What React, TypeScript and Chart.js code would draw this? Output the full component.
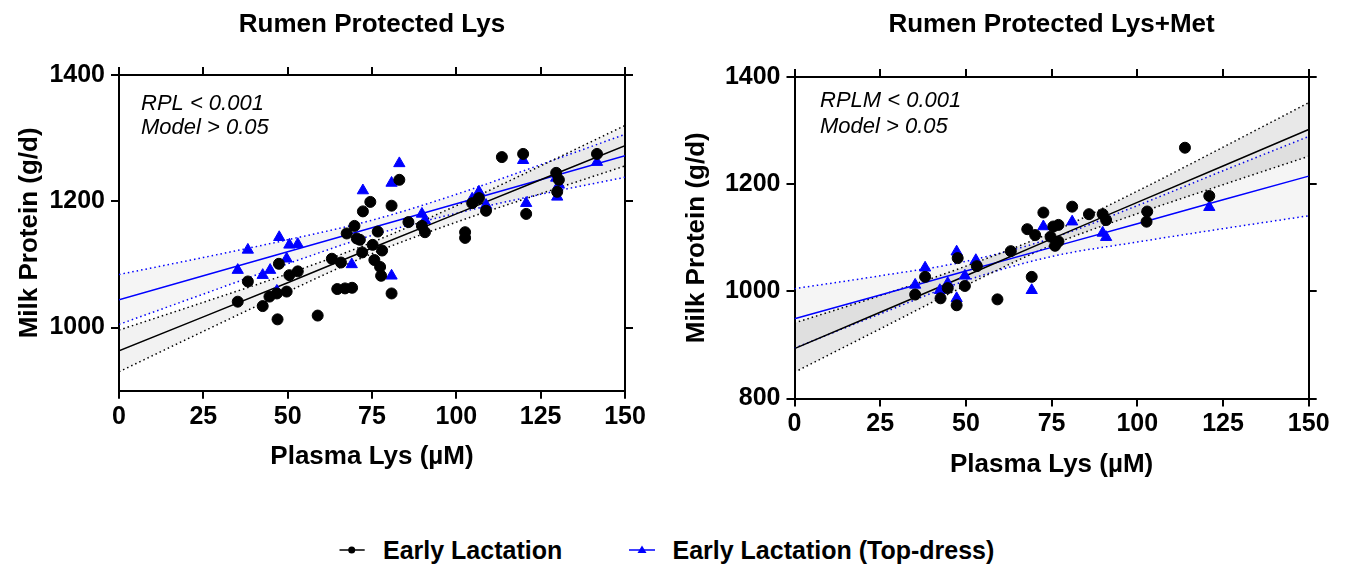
import React, { useEffect, useRef } from "react";
import { Chart, registerables } from "chart.js";

Chart.register(...registerables);

const FONT = "'Liberation Sans', Arial, Helvetica, sans-serif";

// ---------- shared axis ticks ----------
const xTicks = [0, 25, 50, 75, 100, 125, 150];
const lysYTicks = [1000, 1200, 1400];
const lysMetYTicks = [800, 1000, 1200, 1400];
const fitX = [0, 25, 50, 75, 100, 125, 150];

// ---------- Panel 1: Rumen Protected Lys ----------
const lysEarlyX = [35.2, 38.2, 42.6, 44.6, 46.8, 47.0, 47.4, 49.7, 50.5, 53.0, 58.9, 63.1, 65.8, 64.7, 67.0, 69.1, 67.5, 69.8, 70.5, 71.4, 72.1, 72.3, 74.5, 75.2, 76.7, 78.0, 75.7, 77.4, 77.7, 80.8, 80.8, 83.1, 85.8, 89.8, 90.7, 102.6, 102.6, 104.7, 106.7, 108.8, 113.5, 119.8, 120.7, 129.6, 130.4, 129.9, 141.7];
const lysEarlyY = [1041, 1073, 1034, 1049, 1054, 1013, 1101, 1057, 1083, 1089, 1019, 1109, 1103, 1061, 1062, 1063, 1149, 1161, 1141, 1139, 1119, 1184, 1199, 1131, 1152, 1122, 1107, 1096, 1082, 1054, 1193, 1234, 1167, 1161, 1151, 1151, 1142, 1197, 1205, 1185, 1270, 1275, 1180, 1245, 1234, 1215, 1275];
const lysTopX = [35.2, 38.2, 42.6, 44.8, 47.5, 46.8, 49.7, 50.5, 53.0, 69.0, 72.3, 80.8, 83.1, 80.8, 89.8, 90.7, 104.7, 106.7, 108.8, 119.8, 120.7, 129.6, 130.4, 129.9, 141.7];
const lysTopY = [1091, 1123, 1083, 1091, 1143, 1058, 1109, 1131, 1132, 1100, 1217, 1229, 1260, 1082, 1180, 1170, 1204, 1215, 1194, 1265, 1197, 1237, 1226, 1207, 1262];
const lysEarlyFit = [963, 1017, 1071, 1126, 1180, 1234, 1288];
const lysEarlyUpper = [996, 1040, 1085, 1135, 1193, 1256, 1320];
const lysEarlyLower = [930, 994, 1057, 1117, 1167, 1212, 1256];
const lysTopFit = [1044, 1082, 1120, 1158, 1196, 1234, 1272];
const lysTopUpper = [1084, 1111, 1139, 1170, 1211, 1258, 1306];
const lysTopLower = [1005, 1053, 1101, 1146, 1181, 1211, 1238];

// ---------- Panel 2: Rumen Protected Lys+Met ----------
const lysMetEarlyX = [35.2, 38.1, 42.6, 44.7, 47.3, 47.6, 49.7, 53.2, 59.2, 63.1, 67.9, 70.2, 69.2, 72.6, 75.5, 77.0, 74.7, 77.0, 76.0, 81.0, 85.9, 89.9, 90.9, 102.9, 102.7, 113.9, 121.0];
const lysMetEarlyY = [994, 1027, 987, 1006, 974, 1062, 1010, 1047, 985, 1075, 1116, 1105, 1027, 1147, 1121, 1124, 1102, 1093, 1085, 1158, 1144, 1144, 1133, 1149, 1130, 1268, 1178];
const lysMetTopX = [35.2, 38.1, 42.4, 44.7, 47.3, 47.3, 49.7, 52.9, 69.2, 72.6, 81.0, 89.9, 90.9, 121.0];
const lysMetTopY = [1012, 1044, 1002, 1015, 1074, 987, 1029, 1058, 1002, 1121, 1130, 1109, 1101, 1157];
const lysMetEarlyFit = [893, 961, 1029, 1098, 1166, 1234, 1302];
const lysMetEarlyUpper = [941, 992, 1047, 1110, 1187, 1269, 1352];
const lysMetEarlyLower = [849, 930, 1011, 1086, 1145, 1199, 1252];
const lysMetTopFit = [949, 993, 1038, 1082, 1126, 1171, 1215];
const lysMetTopUpper = [1005, 1029, 1056, 1099, 1160, 1225, 1289];
const lysMetTopLower = [894, 958, 1020, 1065, 1092, 1117, 1141];

const pairs = (xs: number[], ys: number[]) => xs.map((x, i) => ({ x, y: ys[i] }));

const panelText = {
  id: "panelText",
  afterDraw(chart: any, _args: any, opts: any) {
    const { ctx, chartArea } = chart;
    ctx.save();
    ctx.fillStyle = "#000";
    ctx.textBaseline = "alphabetic";
    ctx.textAlign = "center";
    ctx.font = `bold 26px ${FONT}`;
    ctx.fillText(opts.title, (chartArea.left + chartArea.right) / 2, opts.titleY);
    ctx.textAlign = "left";
    ctx.font = `italic 22px ${FONT}`;
    opts.notes.forEach((t: string, i: number) => {
      ctx.fillText(t, chartArea.left + opts.noteDX, chartArea.top + opts.noteDY[i]);
    });
    ctx.restore();
  },
};

type Panel = {
  title: string;
  notes: string[];
  noteDX: number;
  noteDY: number[];
  yMin: number;
  yMax: number;
  yTicks: number[];
  earlyX: number[];
  earlyY: number[];
  topX: number[];
  topY: number[];
  earlyFit: number[];
  earlyUpper: number[];
  earlyLower: number[];
  topFit: number[];
  topUpper: number[];
  topLower: number[];
  leftW: number;
  rightW: number;
  topH: number;
  bottomH: number;
  xTitlePad: number;
  yTitlePad: number;
  earlyFill: string;
  topFill: string;
};

function buildConfig(p: Panel): any {
  const tickFont = { family: FONT, size: 25, weight: "bold" as const };
  const titleFont = { family: FONT, size: 26, weight: "bold" as const };
  const grid = { drawOnChartArea: false, drawTicks: true, tickLength: 8, color: "#000", lineWidth: 2 };
  const border = { display: true, color: "#000", width: 2 };
  const setX = (s: any) => { s.ticks = xTicks.map((v) => ({ value: v })); };
  const setY = (s: any) => { s.ticks = p.yTicks.map((v) => ({ value: v })); };
  const plain = (v: any) => String(v);
  const dotted = (color: string) => ({
    type: "line",
    borderColor: color,
    borderWidth: 1.5,
    borderDash: [1.5, 3],
    pointRadius: 0,
    cubicInterpolationMode: "monotone",
  });
  return {
    type: "scatter",
    data: {
      datasets: [
        {
          label: "Early Lactation",
          data: pairs(p.earlyX, p.earlyY),
          pointStyle: "circle",
          pointRadius: 5.5,
          pointBorderWidth: 1,
          backgroundColor: "#000",
          borderColor: "#000",
        },
        {
          label: "Early Lactation (Top-dress)",
          data: pairs(p.topX, p.topY),
          pointStyle: "triangle",
          pointRadius: 6.5,
          pointBorderWidth: 1,
          backgroundColor: "#0000ff",
          borderColor: "#0000ff",
        },
        { type: "line", data: pairs(fitX, p.earlyFit), borderColor: "#000", borderWidth: 1.5, pointRadius: 0, fill: false },
        { type: "line", data: pairs(fitX, p.topFit), borderColor: "#0000ff", borderWidth: 1.5, pointRadius: 0, fill: false },
        { ...dotted("#000"), data: pairs(fitX, p.earlyUpper), fill: "+1", backgroundColor: p.earlyFill },
        { ...dotted("#000"), data: pairs(fitX, p.earlyLower), fill: false },
        { ...dotted("#0000ff"), data: pairs(fitX, p.topUpper), fill: "+1", backgroundColor: p.topFill },
        { ...dotted("#0000ff"), data: pairs(fitX, p.topLower), fill: false },
      ],
    },
    options: {
      responsive: false,
      animation: false,
      events: [],
      layout: { padding: 0 },
      plugins: {
        legend: { display: false },
        tooltip: { enabled: false },
        title: { display: false },
        panelText: { title: p.title, titleY: 31.5, notes: p.notes, noteDX: p.noteDX, noteDY: p.noteDY },
      },
      scales: {
        x: {
          type: "linear",
          axis: "x",
          position: "bottom",
          min: 0,
          max: 150,
          afterBuildTicks: setX,
          ticks: { font: tickFont, color: "#000", padding: 3, maxRotation: 0, autoSkip: false, callback: plain },
          grid,
          border,
          title: { display: true, text: "Plasma Lys (µM)", font: titleFont, color: "#000", padding: { top: 0, bottom: p.xTitlePad } },
          afterFit: (s: any) => { s.height = p.bottomH; },
        },
        x2: {
          type: "linear",
          axis: "x",
          position: "top",
          min: 0,
          max: 150,
          afterBuildTicks: setX,
          ticks: { display: false },
          grid,
          border,
          afterFit: (s: any) => { s.height = p.topH; },
        },
        y: {
          type: "linear",
          axis: "y",
          position: "left",
          min: p.yMin,
          max: p.yMax,
          afterBuildTicks: setY,
          ticks: { font: tickFont, color: "#000", padding: 6, callback: plain },
          grid,
          border,
          title: { display: true, text: "Milk Protein (g/d)", font: titleFont, color: "#000", padding: { top: p.yTitlePad, bottom: 0 } },
          afterFit: (s: any) => { s.width = p.leftW; },
        },
        y2: {
          type: "linear",
          axis: "y",
          position: "right",
          min: p.yMin,
          max: p.yMax,
          afterBuildTicks: setY,
          ticks: { display: false },
          grid,
          border,
          afterFit: (s: any) => { s.width = p.rightW; },
        },
      },
    },
    plugins: [panelText],
  };
}

const lysPanel: Panel = {
  title: "Rumen Protected Lys",
  notes: ["RPL < 0.001", "Model > 0.05"],
  noteDX: 22,
  noteDY: [34.5, 59.3],
  yMin: 900,
  yMax: 1400,
  yTicks: lysYTicks,
  earlyX: lysEarlyX,
  earlyY: lysEarlyY,
  topX: lysTopX,
  topY: lysTopY,
  earlyFit: lysEarlyFit,
  earlyUpper: lysEarlyUpper,
  earlyLower: lysEarlyLower,
  topFit: lysTopFit,
  topUpper: lysTopUpper,
  topLower: lysTopLower,
  leftW: 119,
  rightW: 48,
  topH: 75,
  bottomH: 109.3,
  xTitlePad: 27.4,
  yTitlePad: 14.4,
  earlyFill: "rgba(0,0,0,0.05)",
  topFill: "rgba(0,0,0,0.04)",
};

const lysMetPanel: Panel = {
  title: "Rumen Protected Lys+Met",
  notes: ["RPLM < 0.001", "Model > 0.05"],
  noteDX: 25.5,
  noteDY: [29.7, 56.3],
  yMin: 800,
  yMax: 1400,
  yTicks: lysMetYTicks,
  earlyX: lysMetEarlyX,
  earlyY: lysMetEarlyY,
  topX: lysMetTopX,
  topY: lysMetTopY,
  earlyFit: lysMetEarlyFit,
  earlyUpper: lysMetEarlyUpper,
  earlyLower: lysMetEarlyLower,
  topFit: lysMetTopFit,
  topUpper: lysMetTopUpper,
  topLower: lysMetTopLower,
  leftW: 121.5,
  rightW: 37.3,
  topH: 77,
  bottomH: 101.5,
  xTitlePad: 19.4,
  yTitlePad: 8.4,
  earlyFill: "rgba(0,0,0,0.09)",
  topFill: "rgba(0,0,0,0.04)",
};

function PanelChart({ panel, left }: { panel: Panel; left: number }) {
  const ref = useRef<HTMLCanvasElement | null>(null);
  useEffect(() => {
    if (!ref.current) return;
    const chart = new Chart(ref.current, buildConfig(panel));
    return () => chart.destroy();
  }, [panel]);
  return (
    <canvas
      ref={ref}
      width={673}
      height={500}
      style={{ position: "absolute", left, top: 0, width: 673, height: 500 }}
    />
  );
}

export default function App() {
  const legendFont = `bold 25px ${FONT}`;
  return (
    <div style={{ position: "absolute", left: 0, top: 0, width: 1346, height: 566, overflow: "hidden", background: "#fff" }}>
      <PanelChart panel={lysPanel} left={0} />
      <PanelChart panel={lysMetPanel} left={673} />
      <div style={{ position: "absolute", left: 0, top: 535, width: 1346, height: 30, font: legendFont, lineHeight: "30px", color: "#000" }}>
        <svg style={{ position: "absolute", left: 338, top: 8 }} width={30} height={14}>
          <line x1={1.5} y1={7} x2={26.7} y2={7} stroke="#000" strokeWidth={1.5} />
          <circle cx={13.7} cy={7} r={3.5} fill="#000" />
        </svg>
        <span style={{ position: "absolute", left: 383, top: 0, whiteSpace: "nowrap" }}>Early Lactation</span>
        <svg style={{ position: "absolute", left: 627, top: 8 }} width={30} height={14}>
          <line x1={2} y1={7} x2={28} y2={7} stroke="#0000ff" strokeWidth={1.5} />
          <polygon points="15,2.5 19.5,10 10.5,10" fill="#0000ff" />
        </svg>
        <span style={{ position: "absolute", left: 672.5, top: 0, whiteSpace: "nowrap" }}>Early Lactation (Top-dress)</span>
      </div>
    </div>
  );
}
